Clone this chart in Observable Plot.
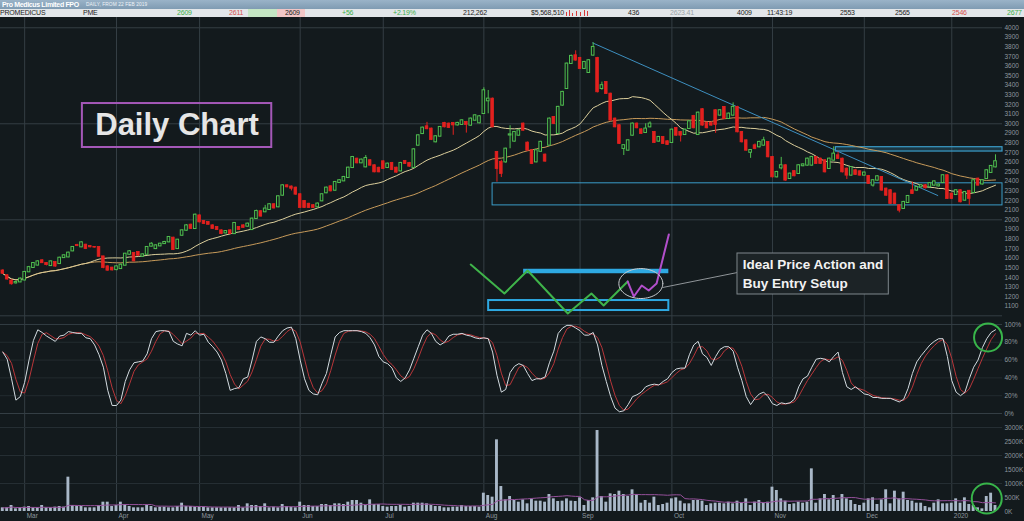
<!DOCTYPE html>
<html><head><meta charset="utf-8">
<script src="https://cdn.jsdelivr.net/npm/d3@7"></script>
<script src="https://cdn.jsdelivr.net/npm/@observablehq/plot@0.6"></script>
<style>
html,body{margin:0;padding:0;background:#131a1d;width:1024px;height:521px;overflow:hidden;font-family:"Liberation Sans",Arial,sans-serif;}
#hdr{position:absolute;left:0;top:0;width:1024px;height:9px;background:linear-gradient(#9ab3c8,#7f9bb2);}
#hdr .a{position:absolute;left:2px;top:0;font-weight:bold;font-size:7px;line-height:9px;color:#fff;letter-spacing:-0.35px;}
#hdr .b{position:absolute;left:86px;top:0;font-size:4.8px;line-height:9px;color:#eef3f7;letter-spacing:0.1px;}
#row{position:absolute;left:0;top:9px;width:1024px;height:8px;background:#e2e6e9;}
.t{position:absolute;top:0;font-size:7px;line-height:8px;color:#222;white-space:nowrap;letter-spacing:-0.2px;}
.g{color:#3fae49}.r{color:#d8504d}.s{color:#9aa3a8}
.cell{position:absolute;top:0;height:8px;}
.mb{position:absolute;bottom:1px;width:1px;background:#d83a3a;}
#charts{position:absolute;left:0;top:17px;width:1024px;}
#charts svg{display:block;}
</style></head><body>
<div id="hdr"><span class="a">Pro Medicus Limited FPO</span><span class="b">DAILY, FROM 22 FEB 2019</span></div>
<div id="row">
  <div class="cell" style="left:248px;width:29px;background:#c4e6c4"></div>
  <div class="cell" style="left:277px;width:28px;background:#f1c6c6"></div>
  <span class="t" style="left:0px">PROMEDICUS</span>
  <span class="t" style="left:83px">PME</span>
  <span class="t g" style="left:177px">2609</span>
  <span class="t r" style="left:229px">2611</span>
  <span class="t" style="left:285px">2609</span>
  <span class="t g" style="left:342px">+56</span>
  <span class="t g" style="left:393px">+2.19%</span>
  <span class="t" style="left:463px">212,262</span>
  <span class="t" style="left:531px">$5,568,510</span>
  <div class="mb" style="left:566px;height:4px"></div><div class="mb" style="left:569px;height:6px"></div><div class="mb" style="left:572px;height:3px"></div><div class="mb" style="left:576px;height:5px"></div><div class="mb" style="left:580px;height:4px"></div><div class="mb" style="left:584px;height:6px"></div><div class="mb" style="left:587px;height:5px"></div>
  <span class="t" style="left:628px">436</span>
  <span class="t s" style="left:670px">2623.41</span>
  <span class="t" style="left:737px">4009</span>
  <span class="t" style="left:767px">11:43:19</span>
  <span class="t" style="left:840px">2553</span>
  <span class="t" style="left:895px">2565</span>
  <span class="t r" style="left:952px">2546</span>
  <span class="t g" style="left:1007px">2677</span>
</div>
<div id="charts"></div>
<script>
// ---------- data (trading-day index 0 = 22 Feb 2019) ----------
const monthIdx = [5, 26, 45, 68, 87, 110, 132, 153, 176, 197, 217];
const monthLabels = ["Mar", "Apr", "May", "Jun", "Jul", "Aug", "Sep", "Oct", "Nov", "Dec", "2020"];

const open = [
1470,1420,1365,1340,1350,1370,1455,1500,1525,1576,
1548,1520,1558,1541,1603,1610,1673,1735,1715,1739,
1725,1715,1715,1617,1513,1500,1478,1489,1524,1638,
1652,1662,1617,1638,1722,1697,1725,1749,1767,1812,
1697,1836,1888,1947,1906,2044,1985,1975,1940,1923,
1888,1860,1888,1853,1923,1940,1930,1895,2010,2087,
2080,2104,2160,2132,2253,2357,2345,2333,2264,2194,
2165,2150,2132,2194,2278,2347,2305,2385,2402,2437,
2541,2635,2590,2548,2618,2566,2540,2607,2541,2590,
2541,2506,2611,2590,2541,2774,2895,2972,2948,2809,
2868,3007,3000,3007,2985,2990,3017,2982,3034,3007,
3104,3236,3260,2704,2600,2600,2880,2816,2878,3000,
2802,2722,2600,2710,2677,2774,3069,2896,3191,3364,
3625,3712,3684,3573,3531,3712,3684,3364,3434,3312,
3052,2983,2740,2722,2878,3000,2940,2906,2965,2913,
2816,2861,2816,2802,2955,2913,2885,2948,3080,2885,
3150,3010,3010,3139,3087,3174,3052,3087,3174,2913,
2826,2700,2774,2757,2774,2809,2653,2444,2538,2566,
2427,2505,2479,2560,2566,2566,2653,2635,2618,2531,
2618,2670,2635,2531,2462,2514,2503,2462,2455,2358,
2410,2444,2323,2306,2271,2149,2115,2177,2306,2306,
2340,2358,2340,2358,2350,2385,2462,2271,2260,2306,
2201,2300,2281,2427,2370,2427,2490,2548];
const high = [
1480,1430,1375,1360,1395,1460,1515,1555,1575,1585,
1555,1570,1565,1610,1635,1662,1722,1745,1770,1745,
1732,1722,1720,1620,1520,1505,1520,1540,1650,1680,
1660,1668,1645,1720,1760,1740,1755,1775,1825,1818,
1795,1895,1950,1955,2060,2050,1992,1982,1948,1930,
1895,1888,1895,1972,1930,1948,1965,2018,2100,2095,
2150,2168,2168,2250,2365,2365,2352,2340,2270,2200,
2172,2158,2175,2270,2340,2355,2400,2418,2452,2548,
2660,2642,2632,2670,2625,2572,2548,2615,2590,2598,
2548,2598,2618,2598,2740,2885,2965,3015,2955,2875,
2972,3015,3008,3012,3015,3042,3025,3060,3095,3085,
3375,3347,3268,2712,2620,2745,2980,2920,2938,3008,
2810,2730,2730,2818,2685,3060,3076,3182,3338,3632,
3715,3760,3692,3650,3668,3844,3692,3434,3440,3318,
3060,2990,2780,2832,3008,3008,2948,3000,3020,2920,
2868,2868,2822,2944,2962,2920,2944,3032,3088,3122,
3158,3017,3017,3146,3146,3180,3112,3218,3182,2920,
2832,2730,2790,2818,2860,2815,2660,2505,2650,2572,
2486,2512,2574,2583,2642,2660,2660,2642,2625,2642,
2760,2705,2642,2538,2555,2521,2510,2497,2462,2418,
2460,2451,2330,2313,2278,2156,2192,2254,2392,2348,
2365,2365,2388,2405,2372,2470,2470,2278,2313,2313,
2295,2306,2418,2434,2418,2521,2566,2677];
const low = [
1430,1370,1320,1330,1345,1365,1450,1495,1520,1545,
1520,1515,1505,1535,1598,1605,1668,1720,1710,1690,
1708,1705,1610,1490,1465,1465,1470,1485,1520,1632,
1560,1620,1612,1632,1718,1690,1720,1745,1760,1680,
1692,1830,1882,1900,1900,1968,1950,1945,1900,1888,
1845,1855,1848,1848,1890,1912,1925,1890,2005,2030,
2075,2100,2112,2125,2248,2332,2300,2255,2118,2118,
2118,2118,2125,2188,2272,2290,2298,2380,2398,2430,
2535,2582,2585,2542,2558,2490,2490,2525,2535,2512,
2485,2500,2576,2548,2535,2768,2888,2938,2825,2802,
2862,2958,2950,2880,2978,2985,2903,2975,3028,3000,
3098,3104,2958,2392,2440,2590,2740,2810,2872,2922,
2715,2575,2594,2705,2600,2768,2992,2890,3185,3358,
3620,3652,3565,3568,3525,3705,3322,3350,3305,3028,
2958,2785,2670,2716,2872,2948,2890,2900,2958,2795,
2810,2785,2775,2796,2870,2810,2878,2942,2948,2878,
2975,2948,2976,2900,3080,3045,3045,3080,2906,2800,
2715,2640,2730,2750,2768,2645,2436,2436,2520,2402,
2420,2448,2472,2552,2560,2560,2576,2576,2488,2525,
2612,2628,2488,2420,2455,2462,2455,2455,2368,2340,
2404,2298,2245,2160,2160,2072,2108,2170,2264,2298,
2332,2322,2332,2350,2342,2378,2212,2212,2253,2177,
2194,2150,2275,2350,2362,2420,2483,2541];
const close = [
1440,1380,1330,1350,1385,1455,1505,1548,1565,1550,
1530,1565,1515,1603,1628,1656,1715,1728,1763,1697,
1715,1712,1617,1500,1472,1475,1513,1530,1645,1670,
1569,1628,1638,1715,1749,1732,1749,1767,1819,1687,
1791,1888,1940,1906,2051,1975,1958,1950,1906,1895,
1853,1881,1853,1965,1895,1918,1958,2010,2090,2035,
2115,2160,2120,2243,2357,2340,2325,2264,2125,2125,
2125,2125,2167,2264,2333,2298,2392,2410,2444,2541,
2652,2590,2625,2642,2566,2496,2496,2531,2583,2520,
2493,2590,2583,2555,2732,2878,2958,2945,2833,2868,
2965,2965,2958,2985,3007,3034,2990,3052,3086,3076,
3347,3260,2965,2531,2480,2739,2888,2913,2930,2930,
2722,2583,2722,2810,2608,3052,3000,3174,3330,3625,
3705,3660,3573,3642,3660,3798,3330,3400,3312,3035,
2965,2792,2775,2826,3000,2955,2896,2948,3000,2802,
2861,2792,2781,2937,2878,2878,2937,3024,2955,3114,
2983,2955,2983,2990,3139,3052,3104,3174,2913,2809,
2722,2725,2740,2809,2826,2653,2444,2496,2566,2410,
2479,2455,2566,2575,2635,2653,2583,2583,2496,2635,
2687,2635,2496,2462,2548,2469,2462,2490,2375,2410,
2451,2306,2253,2167,2167,2097,2184,2246,2271,2340,
2358,2330,2380,2398,2365,2462,2219,2219,2306,2184,
2288,2220,2410,2358,2410,2514,2559,2608];

// Stochastic %K (percent) read per day; %D is its 3-day average
const stochK = [
69,61,39,15,19,35,60,82,94,91, 87,84,81,87,88,92,91,90,90,85,
84,77,66,52,26,9,9,15,36,49, 57,58,59,67,84,92,93,93,92,81,
78,76,90,88,93,88,89,80,75,69, 60,45,26,28,29,39,41,60,81,86,
84,80,80,87,93,96,97,84,60,39, 26,22,21,34,45,66,86,91,93,93,
93,93,92,90,85,77,64,58,56,51, 40,36,40,49,62,75,88,94,90,81,
77,80,87,89,89,90,88,87,85,84, 85,84,69,43,24,27,46,53,56,54,
45,37,39,39,41,57,70,90,96,99, 99,96,93,88,88,91,77,54,36,19,
6,2,3,10,19,21,24,30,32,33, 32,36,39,46,50,51,51,66,77,81,
67,63,54,64,72,75,75,70,52,37, 19,10,17,22,24,19,11,9,12,11,
12,16,30,39,42,52,61,62,61,58, 64,69,46,30,27,30,26,22,21,18,
18,17,17,17,15,13,16,28,45,58, 65,71,77,81,84,84,64,37,24,20,
24,39,52,60,74,84,91,94];

// Volume in thousands of shares
const volume = [
131,131,214,95,131,155,178,131,131,214, 131,131,155,178,155,1226,214,178,178,131,
131,131,214,333,333,178,214,333,238,178, 131,131,131,214,178,131,155,155,131,131,
178,297,178,178,155,155,155,131,131,131, 131,131,131,131,214,131,274,214,214,178,
274,131,155,131,250,178,155,131,333,214, 214,178,178,250,250,214,274,274,250,333,
393,393,297,214,416,250,250,178,155,178, 178,214,155,178,297,297,297,274,214,178,
178,131,131,155,155,214,178,178,178,155, 654,571,512,2559,892,416,535,393,333,416,
274,428,369,369,333,607,452,357,369,452, 369,357,488,214,393,488,2892,535,333,631,
607,726,607,535,774,607,297,393,297,512, 214,250,297,452,488,369,274,274,393,393,
369,214,274,297,297,274,333,274,369,297, 452,214,333,393,297,333,869,750,452,369,
250,274,333,297,333,1523,297,452,607,416, 571,393,607,452,393,250,214,297,452,488,
250,416,774,274,726,452,690,393,369,297, 297,178,131,297,416,274,274,297,452,297,
488,250,214,131,95,535,654,214];

const priceTicks = d3.range(1100, 4001, 100);
const priceGrid = [1000, 2000, 3000, 4000];
const stochTicks = [0, 20, 40, 60, 80, 100];
const volTicks = [0, 500, 1000, 1500, 2000, 2500, 3000];

// ---------- annotations (in data units: day index, price) ----------
const trendLine = [{x: 134.9, y: 3842}, {x: 213.8, y: 2253}];
const supportBox = [{x1: 112.0, x2: 228.6, y1: 2150, y2: 2380}];
const resistBand = [{x1: 190.5, x2: 228.6, y1: 2711, y2: 2756}];
const titleBox = [{x1: 18.2, x2: 61.5, y1: 2753, y2: 3211}];
const titleText = [{x: 39.85, y: 2985, t: "Daily Chart"}];
const noteBox = [{x1: 168.0, x2: 202.6, y1: 1222, y2: 1649}];
const noteText = [{x: 169.2, y: 1534, t: "Ideal Price Action and"}, {x: 169.2, y: 1336, t: "Buy Entry Setup"}];
const callout = [{x: 150.9, y: 1295}, {x: 168.0, y: 1451}];
const sketchGreen = [{x:107.0,y:1534},{x:114.7,y:1232},{x:120.0,y:1472},{x:129.2,y:1024},{x:134.6,y:1232},{x:137.4,y:1107},{x:142.9,y:1357}];
const sketchPurple = [{x:142.9,y:1357},{x:144.3,y:1201},{x:146.1,y:1316},{x:147.7,y:1264},{x:149.5,y:1336},{x:152.3,y:1847}];
const sketchBar = [{x1: 119.1, x2: 152.3, y: 1467}];
const sketchBox = [{x1: 111.1, x2: 152.3, y1: 1055, y2: 1159}];
const ellipse = {cx: 145.9, cy: 1336, rx: 5.03, ry: 156};
const stochCircle = [{x: 225.3, y: 85.4}];
const volCircle = [{x: 225.0, y: 464}];

// ---------- styles ----------
const BG = "#131a1d", GRID = "#343e44", TXT = "#8e979d";
const UP = "#4fbe4f", DOWN = "#e3211f";
const FAST = "#dccf9c", SLOW = "#c79a5a";
const BLUE = "#3b9cc8", CIRC = "#38b54a";
const AX = 6.5;

const N = close.length;
const idx = d3.range(N);
const candles = idx.map(i => ({i, o: open[i], h: high[i], l: low[i], c: close[i]}));
const ups = candles.filter(d => d.c >= d.o), downs = candles.filter(d => d.c < d.o);
const hw = 0.3;

const common = {
  width: 1024, marginLeft: 0, marginRight: 22,
  x: {domain: [-0.526, 228.6], axis: null, label: null},
  style: {background: BG, color: TXT, fontFamily: "Liberation Sans, Arial, sans-serif", fontSize: "6.5px", overflow: "visible"}
};

const ell = d3.range(0, 361, 6).map(a => ({x: ellipse.cx + ellipse.rx * Math.cos(a * Math.PI / 180), y: ellipse.cy + ellipse.ry * Math.sin(a * Math.PI / 180)}));

const yAxis = (ticks, fmt) => Plot.axisY(ticks, {anchor: "right", tickSize: 0, tickPadding: 2, tickFormat: fmt, fill: TXT, fontSize: AX, label: null});

const price = Plot.plot({
  ...common, height: 301, marginTop: 0, marginBottom: 0,
  y: {domain: [972, 4107], axis: null, label: null},
  marks: [
    Plot.ruleX(monthIdx, {stroke: GRID}),
    Plot.ruleY(priceGrid, {stroke: GRID}),
    yAxis(priceTicks, d => String(d)),
    Plot.rect(resistBand, {x1: "x1", x2: "x2", y1: "y1", y2: "y2", fill: BLUE, fillOpacity: 0.22, stroke: BLUE, strokeWidth: 1.2}),
    Plot.rect(supportBox, {x1: "x1", x2: "x2", y1: "y1", y2: "y2", fill: "none", stroke: BLUE, strokeWidth: 1}),
    Plot.lineY(close, Plot.windowY({k: 50, anchor: "end"}, {x: (d, i) => i, y: d => d, stroke: SLOW, strokeWidth: 1})),
    Plot.lineY(close, Plot.windowY({k: 20, anchor: "end"}, {x: (d, i) => i, y: d => d, stroke: FAST, strokeWidth: 1})),
    Plot.line(trendLine, {x: "x", y: "y", stroke: "#3d8fbf", strokeWidth: 1}),
    Plot.ruleX(ups, {x: "i", y1: "l", y2: "h", stroke: UP, strokeWidth: 1}),
    Plot.ruleX(downs, {x: "i", y1: "l", y2: "h", stroke: DOWN, strokeWidth: 1}),
    Plot.rect(ups, {x1: d => d.i - hw, x2: d => d.i + hw, y1: d => Math.min(d.o, d.c) - 2, y2: d => Math.max(d.o, d.c) + 2, fill: BG, stroke: UP, strokeWidth: 1}),
    Plot.rect(downs, {x1: d => d.i - hw, x2: d => d.i + hw, y1: d => d.c - 2, y2: d => d.o + 2, fill: DOWN, stroke: DOWN, strokeWidth: 0.8}),
    // "Daily Chart" label
    Plot.rect(titleBox, {x1: "x1", x2: "x2", y1: "y1", y2: "y2", fill: "none", stroke: "#a458b8", strokeWidth: 2}),
    Plot.text(titleText, {x: "x", y: "y", text: "t", fill: "#e6e6e6", fontSize: 31, fontWeight: "bold", fontFamily: "Liberation Sans, Arial, sans-serif"}),
    // idealised sketch
    Plot.ruleY(sketchBar, {x1: "x1", x2: "x2", y: "y", stroke: "#2ea9e2", strokeWidth: 4.5}),
    Plot.rect(sketchBox, {x1: "x1", x2: "x2", y1: "y1", y2: "y2", fill: "none", stroke: "#2ea9e2", strokeWidth: 2}),
    Plot.line(sketchGreen, {x: "x", y: "y", stroke: "#3fb44a", strokeWidth: 2}),
    Plot.line(sketchPurple, {x: "x", y: "y", stroke: "#b24fcb", strokeWidth: 2}),
    Plot.line(ell, {x: "x", y: "y", stroke: "#c9cdd0", strokeWidth: 1}),
    Plot.line(callout, {x: "x", y: "y", stroke: "#8f9498", strokeWidth: 1}),
    Plot.rect(noteBox, {x1: "x1", x2: "x2", y1: "y1", y2: "y2", fill: "#1c2326", stroke: "#7f878c", strokeWidth: 1}),
    Plot.text(noteText, {x: "x", y: "y", text: "t", textAnchor: "start", fill: "#f2f2f2", fontSize: 13.5, fontWeight: "bold", fontFamily: "Liberation Sans, Arial, sans-serif"})
  ]
});

const stoch = Plot.plot({
  ...common, height: 100, marginTop: 0, marginBottom: 0,
  y: {domain: [-5.6, 106.7], axis: null, label: null},
  marks: [
    Plot.ruleX(monthIdx, {stroke: GRID}),
    Plot.ruleY([20, 40, 60, 80], {stroke: "#232b2f"}),
    Plot.ruleY([0, 100], {stroke: GRID}),
    yAxis(stochTicks, d => d + "%"),
    Plot.lineY(stochK, Plot.windowY({k: 3, anchor: "end"}, {x: (d, i) => i, y: d => d, stroke: "#b8363a", strokeWidth: 1})),
    Plot.lineY(stochK, {x: (d, i) => i, y: d => d, stroke: "#d3dbe0", strokeWidth: 1}),
    Plot.dot(stochCircle, {x: "x", y: "y", r: 14, fill: "none", stroke: CIRC, strokeWidth: 2})
  ]
});

const vol = Plot.plot({
  ...common, height: 104, marginTop: 0, marginBottom: 11,
  y: {domain: [0, 3321], axis: null, label: null},
  marks: [
    Plot.ruleX(monthIdx, {stroke: GRID}),
    Plot.ruleY([1000, 2000, 3000], {stroke: "#262f34"}),
    yAxis(volTicks, d => d + "K"),
    Plot.rectY(volume, {x1: (d, i) => i - 0.33, x2: (d, i) => i + 0.33, y: d => d, fill: "#a9b8c8"}),
    Plot.lineY(volume, Plot.windowY({k: 20, anchor: "end"}, {x: (d, i) => i, y: d => d, stroke: "#95509a", strokeWidth: 1})),
    Plot.axisX(monthIdx, {anchor: "bottom", tickSize: 0, tickPadding: 2, textAnchor: "start", dx: 2, tickFormat: d => monthLabels[monthIdx.indexOf(d)], fill: TXT, fontSize: AX, label: null}),
    Plot.dot(volCircle, {x: "x", y: "y", r: 15, fill: "none", stroke: CIRC, strokeWidth: 2})
  ]
});

const host = document.getElementById("charts");
host.append(price, stoch, vol);
</script>
</body></html>
